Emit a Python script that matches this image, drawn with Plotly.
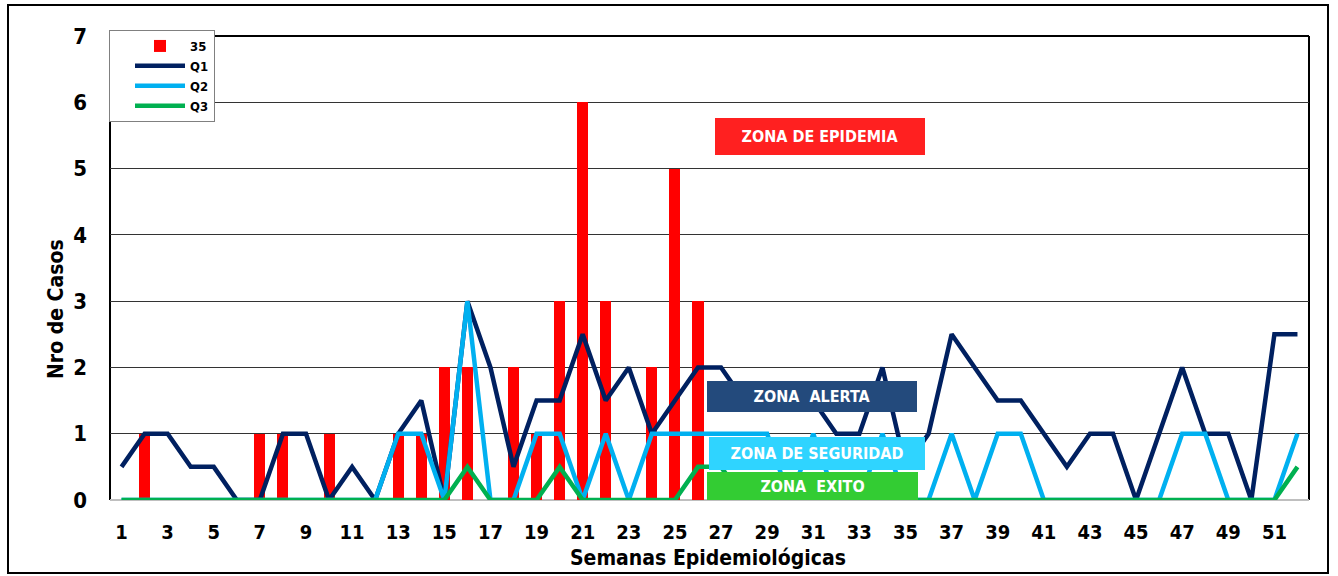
import plotly.graph_objects as go

# ---------------- data ----------------
weeks = list(range(1, 53))
casos_35 = [0, 1, 0, 0, 0, 0, 1, 1, 0, 1, 0, 0, 1, 1, 2, 2, 0, 2, 1, 3, 6, 3, 0, 2, 5, 3] + [None] * 26
q1 = [0.5, 1, 1, 0.5, 0.5, 0, 0, 1, 1, 0, 0.5, 0, 1, 1.5, 0, 3, 2, 0.5, 1.5, 1.5,
      2.5, 1.5, 2, 1, 1.5, 2, 2, 1.5, 1.5, 1.5, 1.5, 1, 1, 2, 0.5, 1, 2.5, 2, 1.5, 1.5,
      1, 0.5, 1, 1, 0, 1, 2, 1, 1, 0, 2.5, 2.5]
q2 = [0, 0, 0, 0, 0, 0, 0, 0, 0, 0, 0, 0, 1, 1, 0, 3, 0, 0, 1, 1,
      0, 1, 0, 1, 1, 1, 1, 1, 1, 0, 1, 0, 0, 1, 0, 0, 1, 0, 1, 1,
      0, 0, 0, 0, 0, 0, 1, 1, 0, 0, 0, 1]
q3 = [0, 0, 0, 0, 0, 0, 0, 0, 0, 0, 0, 0, 0, 0, 0, 0.5, 0, 0, 0, 0.5,
      0, 0, 0, 0, 0, 0.5, 0.5, 0, 0, 0, 0, 0, 0, 0, 0, 0, 0, 0, 0, 0,
      0, 0, 0, 0, 0, 0, 0, 0, 0, 0, 0, 0.5]
x_ticks = list(range(1, 52, 2))
y_ticks = list(range(0, 8))
series_names = ["35", "Q1", "Q2", "Q3"]
zone_labels = ["ZONA DE EPIDEMIA", "ZONA  ALERTA", "ZONA DE SEGURIDAD", "ZONA  EXITO"]
x_title = "Semanas Epidemiológicas"
y_title = "Nro de Casos"

# ---------------- layout geometry ----------------
W, H = 1338, 576
L, R, T, B = 110, 1309, 36, 500
PW, PH = R - L, B - T

def px(x):
    return (x - L) / PW

def py(y):
    return (B - y) / PH

FONT = "Liberation Sans Narrow, Arial Narrow, DejaVu Sans Condensed, Liberation Sans, Arial, sans-serif"

fig = go.Figure()
fig.add_trace(go.Bar(x=weeks, y=casos_35, name=series_names[0], marker_color="#FF0000",
                     width=0.48, marker_line_width=0))
fig.add_trace(go.Scatter(x=weeks, y=q1, name=series_names[1], mode="lines",
                         line=dict(color="#002060", width=4.5)))
fig.add_trace(go.Scatter(x=weeks, y=q2, name=series_names[2], mode="lines",
                         line=dict(color="#00B0F0", width=4.5)))
fig.add_trace(go.Scatter(x=weeks, y=q3, name=series_names[3], mode="lines",
                         line=dict(color="#00B050", width=4.5)))

fig.update_layout(
    width=W, height=H,
    margin=dict(l=L, r=W - R, t=T, b=H - B, pad=0),
    paper_bgcolor="white", plot_bgcolor="white",
    font=dict(family=FONT, color="black"),
    showlegend=True,
    legend=dict(x=px(109), y=py(30), xanchor="left", yanchor="top",
                bgcolor="white", bordercolor="#808080", borderwidth=1,
                font=dict(family=FONT, size=13, weight="bold"),
                tracegroupgap=0, itemwidth=50, traceorder="normal",
                indentation=20, entrywidth=100, entrywidthmode="pixels"),
    xaxis=dict(range=[0.5, 52.5], tickmode="array", tickvals=x_ticks,
               ticktext=[str(v) for v in x_ticks], showgrid=False, zeroline=False,
               showline=False, ticks="", ticklabelstandoff=18,
               tickfont=dict(family=FONT, size=20, weight="bold")),
    yaxis=dict(range=[0, 7], tickmode="array", tickvals=y_ticks,
               showgrid=True, gridcolor="#333333", gridwidth=1, zeroline=False,
               showline=False, ticks="", ticklabelstandoff=22,
               tickfont=dict(family=FONT, size=22, weight="bold")),
    bargap=0,
)

# plot frame: top/left/right black, bottom grey
shapes = [
    dict(type="line", xref="paper", yref="paper", x0=0, x1=1, y0=1, y1=1,
         line=dict(color="black", width=2), layer="below"),
    dict(type="line", xref="paper", yref="paper", x0=0, x1=0, y0=0, y1=1,
         line=dict(color="black", width=2), layer="below"),
    dict(type="line", xref="paper", yref="paper", x0=1, x1=1, y0=0, y1=1,
         line=dict(color="black", width=2), layer="below"),
    dict(type="line", xref="paper", yref="paper", x0=0, x1=1, y0=0, y1=0,
         line=dict(color="#BFBFBF", width=2), layer="below"),
    # outer chart border
    dict(type="rect", xref="paper", yref="paper", x0=px(8), x1=px(1328), y0=py(573), y1=py(5),
         line=dict(color="black", width=2), fillcolor="rgba(0,0,0,0)", layer="above"),
]
fig.update_layout(shapes=shapes)

# zone boxes (x0, x1, y0, y1 in pixels) with colours
zones = [
    (715, 925, 118, 155, "#FF2020"),
    (707, 917, 381, 412, "#234A7C"),
    (709, 925, 437, 470, "#2FD4FF"),
    (707, 918, 472, 500, "#33CC33"),
]
for (x0, x1, y0, y1, col), label in zip(zones, zone_labels):
    fig.add_annotation(xref="paper", yref="paper", x=px((x0 + x1) / 2), y=py((y0 + y1) / 2),
                       xanchor="center", yanchor="middle", text=label, showarrow=False,
                       width=x1 - x0, height=y1 - y0, bgcolor=col, borderpad=0, borderwidth=0,
                       font=dict(family=FONT, size=16, color="white", weight="bold"))

# axis titles
fig.add_annotation(xref="paper", yref="paper", x=px(708), y=py(558), text=x_title,
                   showarrow=False, xanchor="center", yanchor="middle",
                   font=dict(family=FONT, size=21, weight="bold"))
fig.add_annotation(xref="paper", yref="paper", x=px(56), y=py(309), text=y_title,
                   showarrow=False, xanchor="center", yanchor="middle", textangle=-90,
                   font=dict(family=FONT, size=21, weight="bold"))

fig.write_html("out.html", post_script="document.body.style.margin='0';",
               config={"displayModeBar": False})
